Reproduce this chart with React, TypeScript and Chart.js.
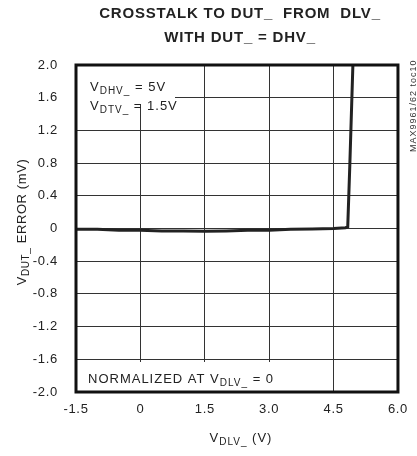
import React, { useEffect, useRef } from "react";
import { Chart, registerables } from "chart.js";

Chart.register(...registerables);

const xValues = [-1.5, -1.0, -0.5, 0, 0.5, 1.0, 1.5, 2.0, 2.5, 3.0, 3.5, 4.0, 4.5, 4.78, 4.83, 4.88, 4.95, 4.97];
const yValues = [-0.01, -0.01, -0.02, -0.02, -0.03, -0.03, -0.035, -0.03, -0.02, -0.02, -0.01, -0.005, 0.0, 0.01, 0.02, 0.8, 2.0, 2.3];
const xTicks = [-1.5, 0, 1.5, 3.0, 4.5, 6.0];
const yTicks = [2.0, 1.6, 1.2, 0.8, 0.4, 0, -0.4, -0.8, -1.2, -1.6, -2.0];

const FONT = "'Liberation Sans', Arial, sans-serif";
const LS = "0.7px";

function drawSub(ctx: CanvasRenderingContext2D, parts: [string, boolean][], x: number, y: number, size: number, subSize: number) {
  let cx = x;
  for (const [t, sub] of parts) {
    ctx.font = `${sub ? subSize : size}px ${FONT}`;
    ctx.fillText(t, cx, sub ? y + 3 : y);
    cx += ctx.measureText(t).width;
  }
  return cx - x;
}
function measureSub(ctx: CanvasRenderingContext2D, parts: [string, boolean][], size: number, subSize: number) {
  let w = 0;
  for (const [t, sub] of parts) {
    ctx.font = `${sub ? subSize : size}px ${FONT}`;
    w += ctx.measureText(t).width;
  }
  return w;
}

const decor = {
  id: "decor",
  beforeInit(chart: any) {
    (chart.ctx as any).letterSpacing = LS;
  },
  beforeDraw(chart: any) {
    (chart.ctx as any).letterSpacing = LS;
  },
  afterDraw(chart: any) {
    const ctx: CanvasRenderingContext2D = chart.ctx;
    const a = chart.chartArea;
    ctx.save();
    (ctx as any).letterSpacing = "1px";

    ctx.textBaseline = "alphabetic";
    ctx.textAlign = "left";
    // top-left annotation box
    ctx.fillStyle = "#fff";
    ctx.fillRect(a.left + 1, a.top + 1, 98, 38);
    ctx.fillStyle = "#222";
    drawSub(ctx, [["V", false], ["DHV_", true], [" = 5V", false]], 90, 91, 13, 10);
    drawSub(ctx, [["V", false], ["DTV_", true], [" = 1.5V", false]], 90, 110, 13, 10);

    // bottom annotation box
    ctx.fillStyle = "#fff";
    ctx.fillRect(a.left + 1, 362, 195, a.bottom - 362);
    ctx.fillStyle = "#222";
    drawSub(ctx, [["NORMALIZED AT V", false], ["DLV_", true], [" = 0", false]], 88, 383, 13, 10);

    // border
    ctx.strokeStyle = "#111";
    ctx.lineWidth = 3;
    ctx.strokeRect(a.left, a.top, a.right - a.left, a.bottom - a.top);

    // title
    ctx.fillStyle = "#222";
    ctx.textAlign = "center";
    (ctx as any).letterSpacing = "0.8px";
    ctx.font = `bold 15px ${FONT}`;
    ctx.fillText("CROSSTALK TO DUT_  FROM  DLV_", 240, 18);
    ctx.fillText("WITH DUT_ = DHV_", 240, 42);
    ctx.textAlign = "left";
    (ctx as any).letterSpacing = "1px";

    // x title
    const xp: [string, boolean][] = [["V", false], ["DLV_", true], [" (V)", false]];
    const xw = measureSub(ctx, xp, 13, 10);
    drawSub(ctx, xp, 240 - xw / 2 + 1, 442, 13, 10);

    // y title
    ctx.save();
    (ctx as any).letterSpacing = "0.6px";
    ctx.translate(26, 222);
    ctx.rotate(-Math.PI / 2);
    const yp: [string, boolean][] = [["V", false], ["DUT_", true], [" ERROR (mV)", false]];
    const yw = measureSub(ctx, yp, 13, 10);
    drawSub(ctx, yp, -yw / 2, 0, 13, 10);
    ctx.restore();

    // side label
    ctx.save();
    (ctx as any).letterSpacing = "1px";
    ctx.translate(416, 152);
    ctx.rotate(-Math.PI / 2);
    ctx.font = `9px ${FONT}`;
    ctx.fillStyle = "#333";
    ctx.fillText("MAX9961/62 toc10", 0, 0);
    ctx.restore();

    ctx.restore();
  },
};

export default function App() {
  const ref = useRef<HTMLCanvasElement>(null);
  useEffect(() => {
    if (!ref.current) return;
    const chart = new Chart(ref.current, {
      type: "line",
      data: {
        datasets: [
          {
            data: xValues.map((x, i) => ({ x, y: yValues[i] })),
            borderColor: "#222",
            borderWidth: 3,
            pointRadius: 0,
            tension: 0,
          },
        ],
      },
      plugins: [decor],
      options: {
        responsive: false,
        animation: false,
        layout: { padding: { left: 0, right: 13, top: 65, bottom: 0 } },
        plugins: { legend: { display: false }, tooltip: { enabled: false } },
        scales: {
          x: {
            type: "linear",
            min: -1.5,
            max: 6,
            afterBuildTicks: (s: any) => {
              s.ticks = xTicks.map((v) => ({ value: v }));
            },
            afterFit: (s: any) => {
              s.height = 64;
            },
            grid: { color: "#333", lineWidth: 1, drawTicks: false },
            border: { display: false },
            ticks: {
              padding: 10,
              color: "#222",
              font: { family: FONT, size: 13 },
              maxRotation: 0,
              callback: (v: any) => (v === 0 ? "0" : Number(v).toFixed(1)),
            },
          },
          y: {
            type: "linear",
            min: -2,
            max: 2,
            afterBuildTicks: (s: any) => {
              s.ticks = yTicks.map((v) => ({ value: v }));
            },
            afterFit: (s: any) => {
              s.width = 76;
            },
            grid: { color: "#333", lineWidth: 1, drawTicks: false },
            border: { display: false },
            ticks: {
              padding: 18,
              color: "#222",
              font: { family: FONT, size: 13 },
              callback: (v: any) => (Math.abs(v) < 1e-9 ? "0" : Number(v).toFixed(1)),
            },
          },
        },
      },
    });
    return () => chart.destroy();
  }, []);
  return (
    <div style={{ position: "fixed", left: 0, top: 0, width: 417, height: 456, background: "#fff" }}>
      <canvas ref={ref} width={417} height={456} />
    </div>
  );
}
